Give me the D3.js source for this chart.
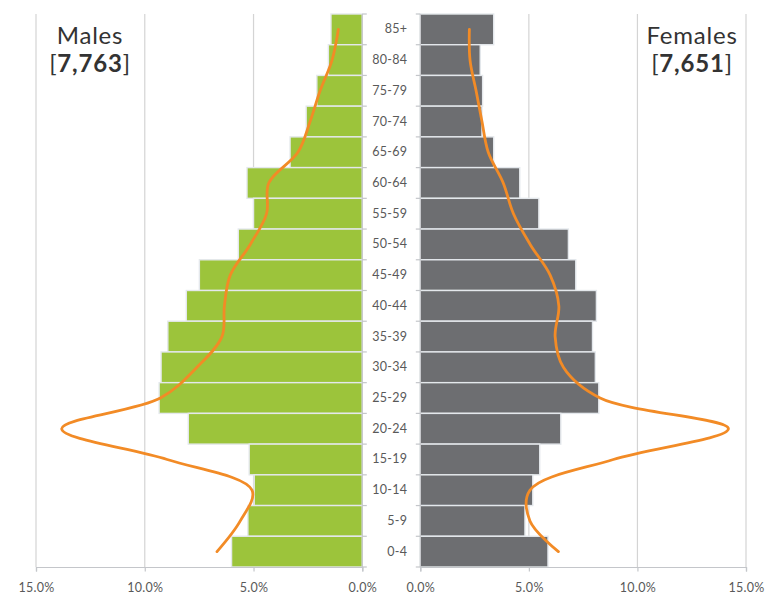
<!DOCTYPE html>
<html>
<head>
<meta charset="utf-8">
<script src="https://cdn.jsdelivr.net/npm/d3@7"></script>
<style>
  html, body { margin: 0; padding: 0; background: #ffffff; }
  svg { display: block; font-family: "Lato", "DejaVu Sans", sans-serif; }
</style>
</head>
<body>
<svg id="chart" width="779" height="608"></svg>
<script>
// Age groups, oldest at the top
const ageGroups = ["85+", "80-84", "75-79", "70-74", "65-69", "60-64", "55-59", "50-54",
  "45-49", "40-44", "35-39", "30-34", "25-29", "20-24", "15-19", "10-14", "5-9", "0-4"];

// Share of the population in each age group (%)
const malesPct = [1.44, 1.56, 2.09, 2.58, 3.32, 5.30, 5.00, 5.70,
  7.49, 8.09, 8.94, 9.25, 9.34, 8.00, 5.20, 4.97, 5.26, 6.01];
const femalesPct = [3.38, 2.76, 2.87, 2.84, 3.38, 4.58, 5.46, 6.82,
  7.16, 8.11, 7.93, 8.06, 8.22, 6.47, 5.50, 5.18, 4.82, 5.88];

// Comparison profile drawn as a smoothed line (%)
const malesRefPct = [1.10, 1.39, 1.94, 2.40, 2.96, 4.30, 4.40, 5.15,
  6.07, 6.34, 6.45, 7.60, 9.28, 13.82, 8.97, 5.07, 5.61, 6.68];
const femalesRefPct = [2.26, 2.29, 2.57, 2.84, 3.13, 3.82, 4.29, 5.06,
  5.98, 6.38, 6.21, 6.59, 8.28, 14.19, 8.89, 5.05, 5.05, 6.36];

const xTicks = [0, 5, 10, 15];
const totals = { males: "7,763", females: "7,651" };

const svg = d3.select("#chart");

const plotTop = 14, plotBottom = 567;
const y = d3.scaleBand().domain(ageGroups).range([plotTop, plotBottom]).padding(0);
const xL = d3.scaleLinear().domain([0, 15]).range([362.3, 36]);
const xR = d3.scaleLinear().domain([0, 15]).range([420.3, 746]);

const green = "#9cc43b", grey = "#6d6e71", orange = "#f28b26";
const gridCol = "#d4d4d4", axisCol = "#c4c6ca", textCol = "#595959";

// Vertical gridlines
function grid(x) {
  svg.append("g").selectAll("line")
    .data(xTicks.filter(d => d > 0))
    .join("line")
    .attr("x1", d => x(d)).attr("x2", d => x(d))
    .attr("y1", plotTop).attr("y2", plotBottom)
    .attr("stroke", gridCol).attr("stroke-width", 1.2);
}
grid(xL); grid(xR);

// Bars
function bars(values, x, fill) {
  svg.append("g").selectAll("rect")
    .data(values)
    .join("rect")
    .attr("x", d => Math.min(x(0), x(d)))
    .attr("width", d => Math.abs(x(d) - x(0)))
    .attr("y", (d, i) => y(ageGroups[i]))
    .attr("height", y.bandwidth())
    .attr("fill", fill)
    .attr("stroke", "#e4e8ec")
    .attr("stroke-width", 1.4);
}
bars(malesPct, xL, green);
bars(femalesPct, xR, grey);

// Category axis lines with ticks on band boundaries
const bounds = ageGroups.map(a => y(a)).concat([plotBottom]);
function catAxis(x0, dir) {
  const g = svg.append("g");
  g.append("line").attr("x1", x0).attr("x2", x0).attr("y1", plotTop).attr("y2", plotBottom)
    .attr("stroke", axisCol).attr("stroke-width", 1.2);
  g.selectAll("line.tk").data(bounds).join("line").attr("class", "tk")
    .attr("x1", x0).attr("x2", x0 + dir * 4.5)
    .attr("y1", d => d).attr("y2", d => d)
    .attr("stroke", axisCol).attr("stroke-width", 1.2);
}
catAxis(xL(0), 1);
catAxis(xR(0), -1);

// Age labels beside the female axis
const ageAxis = d3.axisLeft(y).tickSize(0).tickPadding(13);
const ga = svg.append("g").attr("transform", `translate(${xR(0)},0)`).call(ageAxis);
ga.select(".domain").remove();
ga.selectAll("text").attr("fill", textCol).attr("font-size", 12.5)
  .attr("font-family", "Lato, sans-serif").attr("letter-spacing", 0.3);

// Percentage axes
function pctAxis(x) {
  const ax = d3.axisBottom(x).tickValues(xTicks).tickSize(4.5).tickPadding(12)
    .tickFormat(d => d.toFixed(1) + "%");
  const g = svg.append("g").attr("transform", `translate(0,${plotBottom})`).call(ax);
  g.select(".domain").attr("stroke", axisCol).attr("stroke-width", 1.2);
  g.selectAll(".tick line").attr("stroke", axisCol).attr("stroke-width", 1.2);
  g.selectAll("text").attr("fill", textCol).attr("font-size", 12.5)
    .attr("font-family", "Lato, sans-serif").attr("letter-spacing", 0.3);
}
pctAxis(xL);
pctAxis(xR);

// Smoothed comparison lines
function refLine(values, x) {
  const line = d3.line()
    .x(d => x(d))
    .y((d, i) => y(ageGroups[i]) + y.bandwidth() / 2)
    .curve(d3.curveCatmullRom.alpha(0.5));
  svg.append("path").datum(values).attr("d", line)
    .attr("fill", "none").attr("stroke", orange).attr("stroke-width", 2.8)
    .attr("stroke-linecap", "round");
}
refLine(malesRefPct, xL);
refLine(femalesRefPct, xR);

// Panel titles with totals
function title(cx, name, total) {
  svg.append("text").attr("x", cx).attr("y", 44).attr("text-anchor", "middle")
    .attr("font-size", 24).attr("letter-spacing", 0.8).attr("fill", "#333333").text(name);
  const t = svg.append("text").attr("x", cx).attr("y", 72).attr("text-anchor", "middle")
    .attr("font-size", 24).attr("letter-spacing", 0.8).attr("fill", "#333333");
  t.append("tspan").text("[");
  t.append("tspan").attr("font-weight", "bold").text(total);
  t.append("tspan").text("]");
}
title(90, "Males", totals.males);
title(692, "Females", totals.females);
</script>
</body>
</html>
